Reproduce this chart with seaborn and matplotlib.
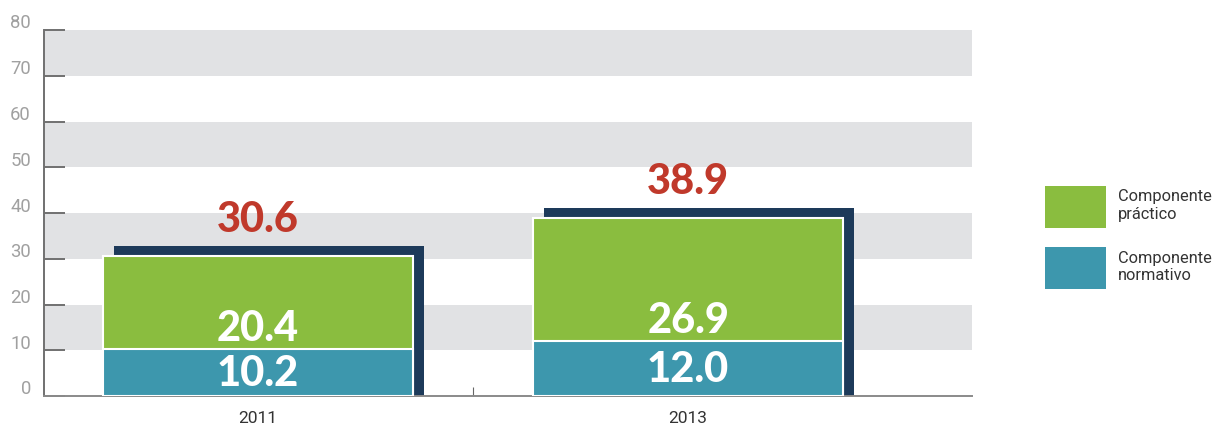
import pandas as pd
import seaborn as sns
import matplotlib.pyplot as plt
import matplotlib.transforms as mtransforms
from matplotlib.patches import Patch

# datos
anios = ["2011", "2013"]
normativo = [10.2, 12.0]
practico = [20.4, 26.9]
totales = [30.6, 38.9]
y_ticks = [0, 10, 20, 30, 40, 50, 60, 70, 80]
bandas = [(10, 20), (30, 40), (50, 60), (70, 80)]
leyenda = ["Componente\npráctico", "Componente\nnormativo"]

verde = "#8abd3f"
azul = "#3d97ad"
sombra = "#1d3a5a"
rojo = "#c0392b"
gris_banda = "#e1e2e4"

df = pd.DataFrame({"anio": anios, "normativo": normativo,
                   "practico": practico, "total": totales})
df["sombra"] = df["total"] + 2.2

sns.set_style("white")
plt.rcParams["font.family"] = ["Roboto", "DejaVu Sans"]

fig = plt.figure(figsize=(12.14, 4.26), dpi=100)
ax = fig.add_axes([44 / 1214, 30 / 426, 928 / 1214, 366 / 426])

# bandas grises de fondo
for lo, hi in bandas:
    ax.axhspan(lo, hi, color=gris_banda, lw=0, zorder=0)

# sombra desplazada a la derecha
n0 = len(ax.patches)
sns.barplot(data=df, x="anio", y="sombra", color=sombra, saturation=1,
            width=0.72, errorbar=None, linewidth=0, zorder=1.5, ax=ax)
desp = mtransforms.ScaledTranslation(11 / 100, 0, fig.dpi_scale_trans)
for p in ax.patches[n0:]:
    p.set_transform(ax.transData + desp)

# barras apiladas
sns.barplot(data=df, x="anio", y="total", color=verde, saturation=1,
            width=0.72, errorbar=None, edgecolor="white", linewidth=1.5,
            zorder=2, ax=ax)
sns.barplot(data=df, x="anio", y="normativo", color=azul, saturation=1,
            width=0.72, errorbar=None, edgecolor="white", linewidth=1.5,
            zorder=3, ax=ax)

num_font = dict(family=["Lato", "DejaVu Sans"], fontweight="black", fontsize=30)
for i, row in df.iterrows():
    ax.annotate(f"{row.total:.1f}", (i, row.total), xytext=(0, 17),
                textcoords="offset points", ha="center", va="baseline",
                color=rojo, zorder=5, **num_font)
    ax.annotate(f"{row.practico:.1f}", (i, row.normativo), xytext=(0, 6),
                textcoords="offset points", ha="center", va="baseline",
                color="white", zorder=5, **num_font)
    ax.annotate(f"{row.normativo:.1f}", (i, row.normativo / 2), xytext=(0, -9.5),
                textcoords="offset points", ha="center", va="baseline",
                color="white", zorder=5, **num_font)

ax.set_xlim(-0.4977, 1.660)
ax.set_ylim(0, 80)
ax.set_yticks(y_ticks)
ax.set_xlabel("")
ax.set_ylabel("")

sns.despine(ax=ax, top=True, right=True)
ax.spines["left"].set_color("#707070")
ax.spines["left"].set_linewidth(1.4)
ax.spines["bottom"].set_color("#8a8a8a")
ax.spines["bottom"].set_linewidth(1.4)

ax.tick_params(axis="y", left=True, direction="in", length=15, width=1.4,
               color="#707070", pad=9.4, labelsize=13.3, labelcolor="#a0a0a0")
ax.tick_params(axis="x", length=0, pad=11, labelsize=12.5, labelcolor="#333333")
ax.set_xticks([0.5], minor=True)
ax.tick_params(axis="x", which="minor", bottom=True, direction="in", length=6.5,
               width=0.8, color="#666666")

sube = mtransforms.ScaledTranslation(0, 8.5 / 100, fig.dpi_scale_trans)
for t in ax.yaxis.get_major_ticks():
    t.label1.set_transform(t.label1.get_transform() + sube)

handles = [Patch(facecolor=verde, lw=0), Patch(facecolor=azul, lw=0)]
fig.legend(handles, leyenda, loc="upper left",
           bbox_to_anchor=(1045 / 1214, 1 - 186 / 426), frameon=False,
           borderaxespad=0, borderpad=0, handlelength=3.7, handleheight=3.56,
           handletextpad=0.75, labelspacing=1.18, fontsize=11.8,
           labelcolor="#333333")

fig.savefig("out.png", dpi=100)
plt.close()
